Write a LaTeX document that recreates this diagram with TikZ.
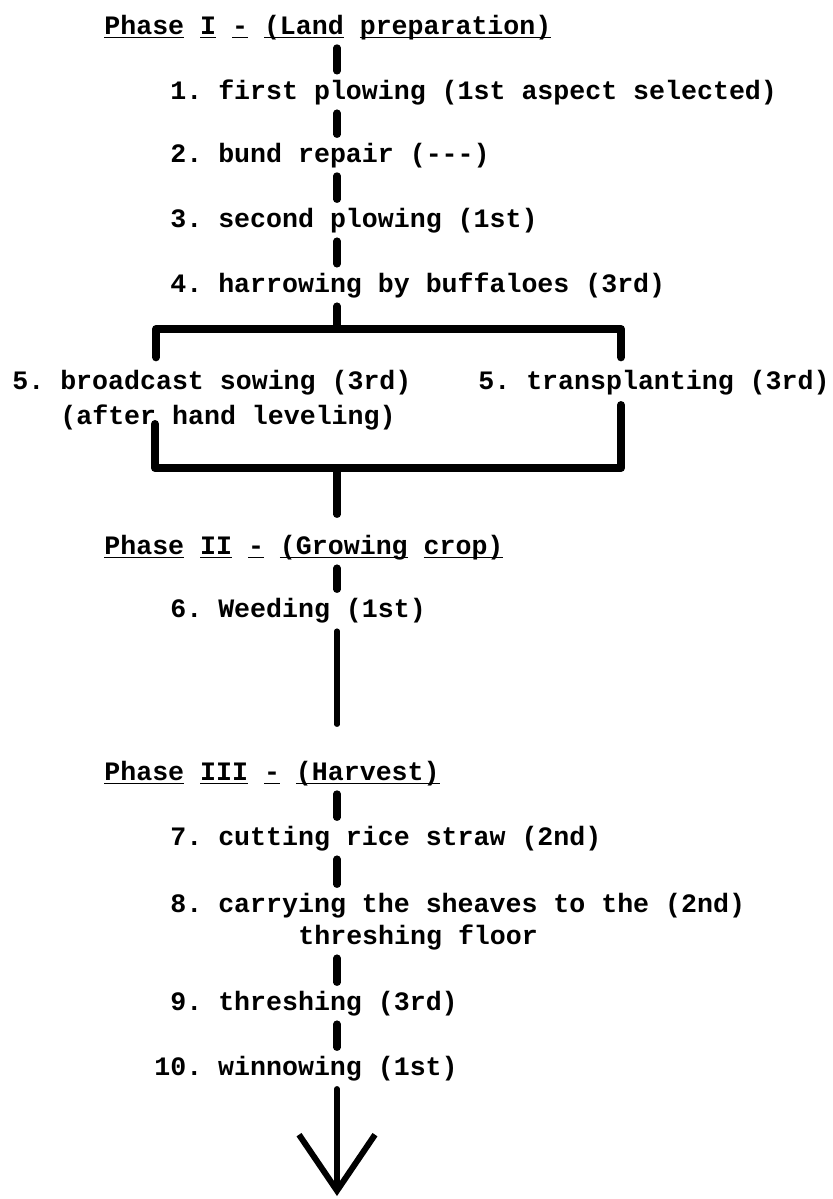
\documentclass[tikz,border=0pt]{standalone}
\usepackage{fontspec}
\setmonofont{Liberation Mono}
\usetikzlibrary{arrows.meta}

% underline one word at a fixed depth
\newcommand\ulword[1]{\setbox0\hbox{#1}\rlap{\rule[-2.2pt]{\wd0}{0.9pt}}\box0\relax}

\begin{document}
\begin{tikzpicture}[
  x=0.5pt,y=-0.5pt,
  line cap=round,line join=round,
  stage/.style={anchor=base west,inner sep=0pt,
    font=\ttfamily\bfseries\fontsize{13.3}{17}\selectfont},
  link/.style={line width=3.6pt,shorten <=4pt,shorten >=4pt},
  thinlink/.style={link,line width=2.6pt},
  bracket/.style={line width=4pt},
  outflow/.style={line width=3pt,shorten <=4pt,
    -{Straight Barb[length=28pt,width=38pt,line width=3pt]}}
]
\useasboundingbox (0,0) rectangle (832,1199);
\coordinate (spine) at (337,0);

% Phase I
\node[stage] (ph1) at (104,34) {\ulword{Phase} \ulword{I} \ulword{-} \ulword{(Land} \ulword{preparation)}};
\node[stage] (it1) at (170,99) {1. first plowing (1st aspect selected)};
\node[stage] (it2) at (170,162) {2. bund repair (---)};
\node[stage] (it3) at (170,227) {3. second plowing (1st)};
\node[stage] (it4) at (170,292) {4. harrowing by buffaloes (3rd)};
\node[stage] (sow) at (12,389) {5. broadcast sowing (3rd)};
\node[stage] (sow2) at (60,424) {(after hand leveling)};
\node[stage] (trans) at (478,389) {5. transplanting (3rd)};

% Phase II
\node[stage] (ph2) at (104,554) {\ulword{Phase} \ulword{II} \ulword{-} \ulword{(Growing} \ulword{crop)}};
\node[stage] (it6) at (170,617) {6. Weeding (1st)};

% Phase III
\node[stage] (ph3) at (104,780) {\ulword{Phase} \ulword{III} \ulword{-} \ulword{(Harvest)}};
\node[stage] (it7) at (170,845) {7. cutting rice straw (2nd)};
\node[stage] (it8) at (170,912) {8. carrying the sheaves to the (2nd)};
\node[stage] (it8b) at (298,944) {threshing floor};
\node[stage] (it9) at (170,1010) {9. threshing (3rd)};
\node[stage] (it10) at (154,1075) {10. winnowing (1st)};

\coordinate (fork) at (337,329);
\coordinate (forkL) at (156,329);
\coordinate (forkR) at (621,329);
\coordinate (join) at (337,468);
\coordinate (joinL) at (155,468);
\coordinate (joinR) at (621,468);
\coordinate (tip) at (337,1196);

\draw[link] (ph1.south -| spine) -- (it1.north -| spine);
\draw[link] (it1.south -| spine) -- (it2.north -| spine);
\draw[link] (it2.south -| spine) -- (it3.north -| spine);
\draw[link] (it3.south -| spine) -- (it4.north -| spine);
\draw[link,shorten >=0pt] (it4.south -| spine) -- (fork);

\draw[bracket,shorten <=6pt,shorten >=6pt]
  (forkL |- sow.north) -- (forkL) -- (forkR) -- (forkR |- trans.north);
\draw[bracket,shorten <=0pt,shorten >=5pt]
  (joinL |- sow2.base) -- (joinL) -- (joinR) -- (joinR |- trans.south);
\draw[link,shorten <=0pt,shorten >=10pt] (join) -- (ph2.north -| spine);

\draw[link] (ph2.south -| spine) -- (it6.north -| spine);
\draw[thinlink,shorten >=18pt] (it6.south -| spine) -- (ph3.north -| spine);
\draw[link] (ph3.south -| spine) -- (it7.north -| spine);
\draw[link] (it7.south -| spine) -- (it8.north -| spine);
\draw[link] (it8b.south -| spine) -- (it9.north -| spine);
\draw[link] (it9.south -| spine) -- (it10.north -| spine);
\draw[outflow] (it10.south -| spine) -- (tip);
\end{tikzpicture}
\end{document}
